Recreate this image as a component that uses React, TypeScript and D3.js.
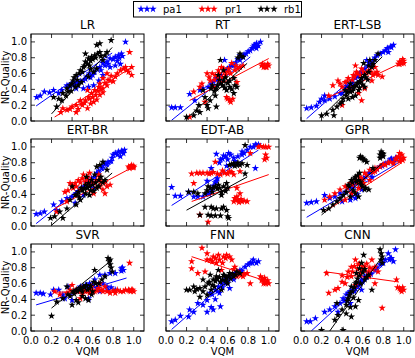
import React from 'react';
import * as d3 from 'd3';

const seriesNames = ['pa1', 'pr1', 'rb1'];
const seriesColors = ['#0000ff', '#ff0000', '#000000'];
const panelTitles = ['LR', 'RT', 'ERT-LSB', 'ERT-BR', 'EDT-AB', 'GPR', 'SVR', 'FNN', 'CNN'];
const tickValues = [0, 0.2, 0.4, 0.6, 0.8, 1.0];

// ---- LR ----
const LR_pa1 = [[0.055,0.30],[0.09,0.32],[0.13,0.37],[0.18,0.36],[0.22,0.39],[0.27,0.35],[0.30,0.39],[0.35,0.45],[0.36,0.43],[0.38,0.44],[0.40,0.47],[0.42,0.46],[0.44,0.49],[0.44,0.41],[0.46,0.48],[0.48,0.50],[0.51,0.51],[0.51,0.41],[0.53,0.53],[0.54,0.56],[0.56,0.43],[0.57,0.60],[0.58,0.55],[0.60,0.58],[0.61,0.45],[0.62,0.62],[0.64,0.66],[0.66,0.51],[0.67,0.68],[0.68,0.64],[0.70,0.73],[0.70,0.58],[0.72,0.70],[0.74,0.75],[0.75,0.72],[0.77,0.79],[0.77,0.68],[0.80,0.78],[0.82,0.81],[0.82,0.70],[0.84,0.76],[0.85,0.83],[0.86,0.80],[0.87,0.72],[0.88,0.85],[0.89,0.82],[0.92,1.0]];
const LR_pr1 = [[0.29,0.11],[0.31,0.16],[0.35,0.14],[0.38,0.15],[0.40,0.18],[0.44,0.20],[0.44,0.11],[0.46,0.15],[0.48,0.26],[0.49,0.22],[0.50,0.20],[0.52,0.23],[0.53,0.26],[0.55,0.16],[0.55,0.39],[0.56,0.30],[0.57,0.28],[0.58,0.22],[0.59,0.35],[0.60,0.30],[0.61,0.24],[0.62,0.39],[0.63,0.33],[0.64,0.27],[0.65,0.38],[0.66,0.43],[0.67,0.47],[0.67,0.33],[0.68,0.40],[0.70,0.54],[0.70,0.41],[0.70,0.36],[0.72,0.48],[0.74,0.60],[0.74,0.45],[0.75,0.52],[0.77,0.51],[0.78,0.57],[0.80,0.50],[0.82,0.56],[0.84,0.60],[0.87,0.64],[0.90,0.66],[0.92,0.68],[0.93,0.64],[0.95,0.62],[0.96,0.87],[0.98,0.68],[0.98,0.58]];
const LR_rb1 = [[0.22,0.30],[0.25,0.18],[0.27,0.28],[0.30,0.26],[0.31,0.35],[0.34,0.32],[0.35,0.41],[0.36,0.37],[0.38,0.45],[0.39,0.38],[0.40,0.47],[0.41,0.51],[0.42,0.55],[0.43,0.43],[0.44,0.58],[0.45,0.52],[0.46,0.45],[0.47,0.60],[0.48,0.64],[0.49,0.49],[0.50,0.62],[0.51,0.68],[0.52,0.70],[0.53,0.75],[0.53,0.85],[0.55,0.72],[0.56,0.79],[0.56,0.56],[0.57,0.70],[0.58,0.76],[0.58,0.66],[0.59,0.81],[0.60,0.78],[0.61,0.62],[0.62,0.83],[0.63,0.80],[0.64,0.96],[0.64,0.66],[0.65,0.85],[0.67,0.98],[0.67,0.87],[0.68,0.82],[0.70,0.77],[0.72,0.83],[0.74,0.87],[0.78,1.02]];
const LR_fit = [[0.05,0.19,0.79,0.86],[0.23,0.05,0.98,0.68],[0.20,0.09,0.79,0.93]];

// ---- RT ----
const RT_pa1 = [[0.055,0.17],[0.09,0.17],[0.14,0.17],[0.23,0.34],[0.28,0.26],[0.33,0.39],[0.36,0.41],[0.41,0.43],[0.44,0.47],[0.46,0.50],[0.49,0.54],[0.50,0.52],[0.53,0.49],[0.54,0.58],[0.57,0.77],[0.59,0.64],[0.60,0.66],[0.62,0.68],[0.64,0.70],[0.66,0.70],[0.68,0.74],[0.70,0.78],[0.72,0.77],[0.72,0.83],[0.75,0.81],[0.76,0.84],[0.78,0.85],[0.80,0.88],[0.82,0.89],[0.84,0.92],[0.85,0.94],[0.86,0.96],[0.88,0.98],[0.88,0.92],[0.90,0.95],[0.92,1.0]];
const RT_pr1 = [[0.23,0.05],[0.27,0.37],[0.33,0.43],[0.35,0.47],[0.38,0.24],[0.40,0.60],[0.42,0.55],[0.43,0.51],[0.45,0.60],[0.46,0.43],[0.47,0.52],[0.48,0.58],[0.50,0.56],[0.51,0.64],[0.52,0.60],[0.53,0.49],[0.54,0.68],[0.55,0.55],[0.56,0.66],[0.57,0.62],[0.58,0.58],[0.59,0.30],[0.60,0.62],[0.60,0.28],[0.61,0.66],[0.62,0.26],[0.63,0.60],[0.63,0.24],[0.64,0.73],[0.65,0.28],[0.67,0.64],[0.68,0.70],[0.69,0.49],[0.70,0.66],[0.72,0.68],[0.75,0.70],[0.93,0.70],[0.94,0.72],[0.95,0.68],[0.96,0.70],[0.97,0.68],[0.98,0.68],[0.99,0.72],[1.0,0.70]];
const RT_rb1 = [[0.20,0.05],[0.27,0.07],[0.30,0.13],[0.32,0.20],[0.33,0.11],[0.36,0.39],[0.38,0.30],[0.40,0.20],[0.41,0.16],[0.43,0.26],[0.44,0.41],[0.45,0.45],[0.47,0.38],[0.48,0.32],[0.49,0.41],[0.49,0.18],[0.50,0.45],[0.51,0.58],[0.52,0.52],[0.53,0.47],[0.53,0.77],[0.55,0.45],[0.56,0.51],[0.56,0.64],[0.57,0.42],[0.58,0.55],[0.59,0.39],[0.60,0.48],[0.62,0.43],[0.62,0.51],[0.64,0.40],[0.66,0.35],[0.66,0.54],[0.67,0.45],[0.69,0.43],[0.70,0.80],[0.72,0.85],[0.73,0.82],[0.75,0.81]];
const RT_fit = [[0.055,0.01,0.82,0.81],[0.23,0.26,1.0,0.79],[0.20,0.03,0.79,0.73]];

// ---- ERT-LSB ----
const ELSB_pa1 = [[0.055,0.16],[0.10,0.17],[0.15,0.19],[0.18,0.24],[0.20,0.28],[0.23,0.26],[0.23,0.32],[0.28,0.28],[0.33,0.31],[0.38,0.35],[0.40,0.35],[0.43,0.41],[0.45,0.44],[0.48,0.45],[0.49,0.43],[0.50,0.48],[0.53,0.54],[0.55,0.56],[0.57,0.60],[0.59,0.54],[0.60,0.62],[0.62,0.66],[0.64,0.77],[0.65,0.70],[0.67,0.73],[0.68,0.72],[0.70,0.77],[0.72,0.80],[0.74,0.83],[0.77,0.85],[0.80,0.87],[0.82,0.89],[0.84,0.92],[0.85,0.87],[0.87,0.94],[0.88,0.93],[0.90,0.96]];
const ELSB_pr1 = [[0.27,0.32],[0.31,0.45],[0.36,0.51],[0.38,0.47],[0.40,0.43],[0.40,0.20],[0.43,0.49],[0.45,0.50],[0.46,0.54],[0.48,0.39],[0.50,0.52],[0.51,0.58],[0.52,0.56],[0.53,0.70],[0.54,0.62],[0.55,0.60],[0.56,0.35],[0.58,0.58],[0.59,0.66],[0.59,0.26],[0.61,0.62],[0.62,0.41],[0.64,0.60],[0.66,0.64],[0.68,0.62],[0.69,0.51],[0.70,0.58],[0.72,0.60],[0.72,0.68],[0.74,0.62],[0.75,0.58],[0.79,0.56],[0.95,0.72],[0.96,0.75],[0.96,0.72],[0.97,0.74],[0.98,0.73],[0.99,0.78],[1.0,0.76],[1.0,0.73]];
const ELSB_rb1 = [[0.20,0.07],[0.25,0.09],[0.31,0.14],[0.32,0.07],[0.35,0.18],[0.38,0.22],[0.40,0.24],[0.41,0.28],[0.43,0.39],[0.44,0.32],[0.45,0.36],[0.46,0.28],[0.47,0.42],[0.48,0.37],[0.48,0.47],[0.50,0.38],[0.50,0.30],[0.51,0.41],[0.52,0.44],[0.53,0.32],[0.54,0.45],[0.55,0.48],[0.56,0.39],[0.57,0.49],[0.57,0.42],[0.58,0.50],[0.59,0.54],[0.60,0.46],[0.61,0.73],[0.62,0.58],[0.62,0.43],[0.63,0.55],[0.65,0.52],[0.66,0.62],[0.66,0.70],[0.67,0.77],[0.69,0.68],[0.70,0.72],[0.72,0.77],[0.75,0.85]];
const ELSB_fit = [[0.055,0.03,0.85,0.94],[0.27,0.30,1.0,0.75],[0.20,0.05,0.79,0.81]];

// ---- ERT-BR ----
const EBR_pa1 = [[0.05,0.15],[0.09,0.16],[0.13,0.18],[0.22,0.27],[0.25,0.20],[0.30,0.31],[0.35,0.35],[0.40,0.37],[0.43,0.29],[0.44,0.41],[0.46,0.44],[0.49,0.48],[0.51,0.39],[0.52,0.50],[0.54,0.54],[0.56,0.56],[0.58,0.52],[0.59,0.60],[0.61,0.48],[0.62,0.62],[0.64,0.67],[0.66,0.70],[0.69,0.73],[0.70,0.76],[0.72,0.79],[0.74,0.78],[0.75,0.81],[0.78,0.82],[0.79,0.86],[0.80,0.90],[0.82,0.92],[0.84,0.90],[0.85,0.94],[0.87,0.88],[0.88,0.95],[0.89,0.94],[0.90,0.92],[0.91,0.96]];
const EBR_pr1 = [[0.25,0.18],[0.33,0.43],[0.35,0.31],[0.36,0.45],[0.38,0.54],[0.40,0.52],[0.41,0.48],[0.43,0.54],[0.44,0.50],[0.46,0.58],[0.48,0.46],[0.48,0.55],[0.50,0.60],[0.51,0.65],[0.53,0.56],[0.54,0.60],[0.55,0.62],[0.56,0.52],[0.57,0.67],[0.58,0.58],[0.60,0.55],[0.61,0.41],[0.62,0.54],[0.64,0.58],[0.66,0.65],[0.67,0.50],[0.67,0.62],[0.68,0.56],[0.70,0.46],[0.72,0.41],[0.72,0.55],[0.74,0.50],[0.77,0.52],[0.95,0.75],[0.96,0.73],[0.97,0.75],[0.98,0.77],[0.98,0.75],[0.99,0.74],[1.0,0.76],[1.0,0.74]];
const EBR_rb1 = [[0.19,0.10],[0.23,0.12],[0.28,0.18],[0.31,0.10],[0.35,0.22],[0.38,0.33],[0.40,0.50],[0.43,0.39],[0.44,0.27],[0.45,0.40],[0.46,0.43],[0.47,0.36],[0.48,0.33],[0.49,0.48],[0.50,0.45],[0.52,0.47],[0.53,0.52],[0.53,0.41],[0.54,0.62],[0.55,0.48],[0.56,0.54],[0.57,0.39],[0.57,0.50],[0.58,0.45],[0.59,0.58],[0.60,0.52],[0.61,0.44],[0.62,0.65],[0.63,0.55],[0.64,0.75],[0.64,0.48],[0.66,0.50],[0.66,0.58],[0.67,0.77],[0.68,0.62],[0.70,0.81],[0.70,0.55],[0.72,0.58],[0.74,0.71]];
const EBR_fit = [[0.05,0.03,0.80,0.81],[0.23,0.22,1.0,0.75],[0.20,0.01,0.79,0.67]];

// ---- EDT-AB ----
const EDT_pa1 = [[0.055,0.49],[0.09,0.38],[0.14,0.38],[0.22,0.43],[0.27,0.37],[0.31,0.37],[0.36,0.37],[0.40,0.41],[0.40,0.57],[0.42,0.40],[0.43,0.43],[0.44,0.73],[0.45,0.45],[0.46,0.51],[0.48,0.55],[0.49,0.57],[0.49,0.91],[0.50,0.60],[0.52,0.80],[0.53,0.84],[0.55,0.85],[0.56,0.89],[0.58,0.88],[0.59,0.76],[0.60,0.84],[0.61,0.92],[0.63,0.90],[0.66,0.86],[0.67,0.82],[0.69,0.79],[0.70,0.88],[0.74,0.90],[0.74,0.94],[0.76,0.92],[0.79,0.96],[0.82,1.0],[0.85,1.0],[0.87,1.03],[0.87,0.73],[0.88,1.02],[0.90,1.03]];
const EDT_pr1 = [[0.25,0.66],[0.27,0.54],[0.30,0.67],[0.33,0.67],[0.33,0.14],[0.36,0.67],[0.40,0.67],[0.41,0.05],[0.42,0.66],[0.44,0.67],[0.46,0.68],[0.48,0.81],[0.50,0.66],[0.53,0.65],[0.55,0.70],[0.57,0.67],[0.60,0.66],[0.62,0.69],[0.64,0.68],[0.66,0.65],[0.66,0.31],[0.67,0.35],[0.68,0.33],[0.69,0.48],[0.69,0.37],[0.70,0.33],[0.71,0.30],[0.72,0.69],[0.72,0.41],[0.73,0.34],[0.74,0.31],[0.76,0.32],[0.79,0.31],[0.82,0.92],[0.90,1.0],[0.92,1.01],[0.95,1.0],[0.96,0.84],[0.97,1.0],[0.97,0.90],[0.98,0.86],[1.0,1.0]];
const EDT_rb1 = [[0.22,0.43],[0.27,0.43],[0.31,0.41],[0.33,0.14],[0.38,0.41],[0.38,0.24],[0.40,0.45],[0.41,0.50],[0.41,0.14],[0.43,0.48],[0.44,0.24],[0.44,0.13],[0.45,0.43],[0.46,0.48],[0.46,0.22],[0.48,0.13],[0.48,0.50],[0.49,0.22],[0.50,0.47],[0.51,0.52],[0.52,0.48],[0.53,0.13],[0.54,0.43],[0.54,0.22],[0.54,0.39],[0.56,0.50],[0.56,0.24],[0.58,0.44],[0.59,0.54],[0.59,0.20],[0.60,0.48],[0.60,0.12],[0.61,0.10],[0.62,0.77],[0.64,0.78],[0.66,0.79],[0.67,0.76],[0.69,0.77],[0.70,0.80],[0.72,0.77],[0.74,0.79],[0.77,0.66],[0.77,1.02],[0.79,0.77]];
const EDT_fit = [[0.055,0.26,0.90,0.96],[0.25,0.31,1.0,0.65],[0.20,0.20,0.79,0.62]];

// ---- GPR ----
const GPR_pa1 = [[0.055,0.29],[0.10,0.30],[0.15,0.31],[0.23,0.39],[0.28,0.35],[0.33,0.37],[0.38,0.41],[0.40,0.31],[0.43,0.43],[0.46,0.48],[0.48,0.33],[0.50,0.48],[0.50,0.38],[0.51,0.52],[0.53,0.35],[0.54,0.54],[0.55,0.40],[0.56,0.56],[0.58,0.58],[0.59,0.46],[0.61,0.60],[0.63,0.62],[0.66,0.67],[0.68,0.68],[0.69,0.62],[0.72,0.71],[0.74,0.72],[0.77,0.75],[0.79,0.76],[0.82,0.79],[0.84,0.80],[0.87,0.84],[0.88,0.85],[0.90,0.81],[0.92,0.86],[0.93,0.84],[0.95,0.87]];
const GPR_pr1 = [[0.23,0.33],[0.28,0.37],[0.33,0.41],[0.38,0.46],[0.43,0.50],[0.43,0.33],[0.45,0.48],[0.48,0.54],[0.49,0.41],[0.50,0.52],[0.53,0.58],[0.55,0.55],[0.56,0.48],[0.57,0.62],[0.58,0.60],[0.60,0.58],[0.61,0.54],[0.62,0.67],[0.64,0.64],[0.67,0.71],[0.67,0.58],[0.70,0.68],[0.72,0.73],[0.72,0.69],[0.74,0.72],[0.77,0.75],[0.80,0.78],[0.82,0.77],[0.85,0.80],[0.87,0.81],[0.90,0.79],[0.92,0.84],[0.93,0.86],[0.95,0.88],[0.96,0.92],[0.96,0.82],[0.97,0.85],[0.98,0.90],[0.99,0.83],[1.0,0.86]];
const GPR_rb1 = [[0.22,0.20],[0.27,0.22],[0.31,0.27],[0.35,0.31],[0.38,0.35],[0.41,0.39],[0.44,0.43],[0.46,0.52],[0.47,0.50],[0.48,0.37],[0.49,0.58],[0.50,0.55],[0.51,0.45],[0.52,0.60],[0.53,0.62],[0.53,0.41],[0.54,0.56],[0.55,0.64],[0.56,0.58],[0.56,0.37],[0.57,0.86],[0.57,0.67],[0.58,0.55],[0.58,0.88],[0.59,0.52],[0.60,0.50],[0.60,0.86],[0.61,0.84],[0.62,0.46],[0.62,0.83],[0.63,0.48],[0.64,0.81],[0.66,0.46],[0.70,0.73],[0.77,0.90],[0.77,0.86],[0.78,0.94],[0.79,0.92],[0.79,0.89],[0.80,0.88],[0.80,0.91]];
const GPR_fit = [[0.055,0.11,1.0,0.84],[0.23,0.18,0.98,0.80],[0.20,0.14,0.79,0.79]];

// ---- SVR ----
const SVR_pa1 = [[0.05,0.48],[0.09,0.48],[0.12,0.47],[0.19,0.46],[0.22,0.52],[0.27,0.52],[0.31,0.46],[0.33,0.41],[0.36,0.56],[0.40,0.39],[0.43,0.50],[0.45,0.52],[0.48,0.56],[0.50,0.55],[0.53,0.58],[0.55,0.56],[0.56,0.41],[0.57,0.60],[0.60,0.58],[0.62,0.65],[0.64,0.55],[0.67,0.71],[0.67,0.50],[0.70,0.60],[0.72,0.71],[0.74,0.56],[0.75,0.52],[0.77,0.73],[0.78,0.55],[0.82,0.73],[0.82,0.52],[0.88,0.79],[0.88,0.76],[0.89,0.80],[0.90,0.77]];
const SVR_pr1 = [[0.23,0.50],[0.28,0.46],[0.35,0.48],[0.38,0.52],[0.40,0.58],[0.42,0.50],[0.44,0.52],[0.46,0.50],[0.48,0.41],[0.49,0.54],[0.50,0.48],[0.52,0.52],[0.53,0.50],[0.55,0.50],[0.57,0.48],[0.58,0.52],[0.59,0.56],[0.60,0.49],[0.62,0.50],[0.64,0.51],[0.66,0.54],[0.67,0.60],[0.69,0.52],[0.70,0.50],[0.72,0.56],[0.74,0.50],[0.77,0.48],[0.80,0.51],[0.82,0.48],[0.84,0.52],[0.87,0.50],[0.90,0.50],[0.92,0.52],[0.95,0.52],[0.96,0.86],[0.96,0.51],[0.97,0.50],[0.98,0.52],[0.99,0.52],[1.0,0.50]];
const SVR_rb1 = [[0.20,0.19],[0.25,0.37],[0.31,0.41],[0.35,0.56],[0.36,0.46],[0.38,0.44],[0.40,0.33],[0.41,0.50],[0.42,0.47],[0.44,0.52],[0.44,0.39],[0.45,0.50],[0.46,0.36],[0.47,0.52],[0.48,0.54],[0.50,0.50],[0.50,0.44],[0.51,0.56],[0.52,0.55],[0.53,0.41],[0.54,0.58],[0.55,0.52],[0.56,0.39],[0.57,0.54],[0.58,0.57],[0.59,0.46],[0.60,0.50],[0.61,0.62],[0.62,0.77],[0.63,0.60],[0.66,0.60],[0.69,0.65],[0.72,0.69],[0.75,0.92],[0.76,0.88],[0.77,0.90],[0.77,0.84],[0.78,0.80],[0.79,0.75]];
const SVR_fit = [[0.05,0.33,0.93,0.67],[0.23,0.49,1.0,0.51],[0.20,0.29,0.79,0.90]];

// ---- FNN ----
const FNN_pa1 = [[0.055,0.12],[0.09,0.14],[0.14,0.19],[0.22,0.18],[0.23,0.27],[0.27,0.24],[0.31,0.35],[0.36,0.33],[0.40,0.39],[0.40,0.24],[0.43,0.48],[0.44,0.30],[0.45,0.46],[0.46,0.27],[0.48,0.52],[0.48,0.40],[0.50,0.50],[0.51,0.56],[0.52,0.48],[0.53,0.31],[0.54,0.60],[0.55,0.55],[0.57,0.65],[0.58,0.60],[0.60,0.62],[0.62,0.69],[0.62,0.54],[0.64,0.68],[0.66,0.65],[0.67,0.73],[0.70,0.74],[0.72,0.77],[0.74,0.76],[0.77,0.81],[0.80,0.84],[0.82,0.86],[0.84,0.86],[0.85,0.90],[0.88,0.86],[0.90,0.88]];
const FNN_pr1 = [[0.25,0.88],[0.25,0.79],[0.31,0.73],[0.35,1.05],[0.38,0.75],[0.40,0.98],[0.40,0.90],[0.43,0.90],[0.45,0.88],[0.46,0.94],[0.48,0.92],[0.49,0.86],[0.51,0.96],[0.52,0.90],[0.54,0.77],[0.55,0.86],[0.56,0.94],[0.58,0.92],[0.59,0.96],[0.62,0.94],[0.64,0.90],[0.66,0.78],[0.67,0.81],[0.69,0.69],[0.70,0.75],[0.72,0.73],[0.73,0.70],[0.75,0.69],[0.76,0.72],[0.79,0.73],[0.82,0.60],[0.92,0.69],[0.93,0.64],[0.94,0.66],[0.95,0.60],[0.96,0.67],[0.96,0.62],[0.97,0.60],[0.98,0.62],[0.99,0.64],[1.0,0.60]];
const FNN_rb1 = [[0.20,0.52],[0.23,0.52],[0.27,0.56],[0.28,0.50],[0.30,0.53],[0.33,0.54],[0.33,0.43],[0.36,0.65],[0.36,0.50],[0.38,0.56],[0.40,0.46],[0.41,0.60],[0.42,0.62],[0.43,0.71],[0.44,0.52],[0.45,0.58],[0.46,0.65],[0.47,0.56],[0.48,0.63],[0.49,0.69],[0.50,0.66],[0.51,0.77],[0.52,0.68],[0.53,0.62],[0.54,0.52],[0.55,0.65],[0.56,0.71],[0.57,0.70],[0.58,0.64],[0.59,0.67],[0.60,0.60],[0.61,0.70],[0.62,0.73],[0.63,0.66],[0.65,0.72],[0.66,0.69],[0.68,0.71],[0.69,0.75],[0.72,0.73]];
const FNN_fit = [[0.055,0.02,0.85,0.92],[0.25,0.94,1.0,0.62],[0.38,0.41,0.67,0.69]];

// ---- CNN ----
const CNN_pa1 = [[0.055,0.12],[0.09,0.12],[0.14,0.16],[0.23,0.24],[0.28,0.27],[0.33,0.31],[0.36,0.24],[0.38,0.35],[0.41,0.41],[0.42,0.38],[0.44,0.46],[0.45,0.40],[0.46,0.48],[0.48,0.50],[0.48,0.35],[0.50,0.52],[0.52,0.50],[0.53,0.54],[0.55,0.56],[0.56,0.58],[0.57,0.60],[0.59,0.65],[0.59,0.52],[0.60,0.62],[0.62,0.69],[0.64,0.70],[0.67,0.73],[0.68,0.72],[0.72,0.77],[0.74,0.80],[0.77,0.84],[0.80,0.86],[0.82,0.90],[0.85,0.98],[0.86,0.90],[0.87,0.92],[0.88,0.92],[0.90,0.88],[0.92,1.03]];
const CNN_pr1 = [[0.25,0.73],[0.27,0.48],[0.33,0.52],[0.36,0.54],[0.40,0.62],[0.40,0.70],[0.43,0.60],[0.45,0.68],[0.46,0.75],[0.49,0.81],[0.49,0.69],[0.50,0.75],[0.52,0.82],[0.53,0.90],[0.53,0.58],[0.55,0.78],[0.56,0.84],[0.57,0.85],[0.58,0.72],[0.59,0.77],[0.60,0.82],[0.62,0.81],[0.62,0.76],[0.64,0.85],[0.66,0.75],[0.66,0.69],[0.67,0.80],[0.69,0.90],[0.70,0.78],[0.72,0.81],[0.72,0.60],[0.75,0.75],[0.79,0.29],[0.93,0.65],[0.94,0.55],[0.96,0.54],[0.97,0.52],[0.98,0.50],[0.99,0.55],[1.0,0.52]];
const CNN_rb1 = [[0.20,0.01],[0.33,0.14],[0.35,0.35],[0.36,0.20],[0.40,0.27],[0.41,0.01],[0.44,0.33],[0.44,0.22],[0.45,0.38],[0.46,0.41],[0.47,0.45],[0.48,0.48],[0.48,0.30],[0.49,0.56],[0.49,0.18],[0.50,0.50],[0.51,0.42],[0.52,0.55],[0.53,0.60],[0.53,0.31],[0.54,0.73],[0.54,0.62],[0.55,0.66],[0.56,0.39],[0.57,0.79],[0.57,0.70],[0.58,0.60],[0.59,0.86],[0.60,0.74],[0.61,0.96],[0.62,0.65],[0.62,0.78],[0.64,0.68],[0.66,0.71],[0.69,0.52],[0.77,1.03],[0.78,0.98],[0.78,0.90],[0.79,0.94],[0.79,0.86]];
const CNN_fit = [[0.10,0.0,0.82,0.86],[0.23,0.75,0.95,0.62],[0.28,0.0,0.79,0.94]];

const panelSeries = [
  [LR_pa1, LR_pr1, LR_rb1],
  [RT_pa1, RT_pr1, RT_rb1],
  [ELSB_pa1, ELSB_pr1, ELSB_rb1],
  [EBR_pa1, EBR_pr1, EBR_rb1],
  [EDT_pa1, EDT_pr1, EDT_rb1],
  [GPR_pa1, GPR_pr1, GPR_rb1],
  [SVR_pa1, SVR_pr1, SVR_rb1],
  [FNN_pa1, FNN_pr1, FNN_rb1],
  [CNN_pa1, CNN_pr1, CNN_rb1],
];
const panelFits = [LR_fit, RT_fit, ELSB_fit, EBR_fit, EDT_fit, GPR_fit, SVR_fit, FNN_fit, CNN_fit];

const FONT = 'DejaVu Sans, sans-serif';
const colLeft = [31, 166, 301];
const rowTop = [34, 139, 244];
const PW = 113;
const PH = 87;
const starPath = d3.symbol(d3.symbolStar, 17)() as string;

function Panel({ idx }: { idx: number }) {
  const c = idx % 3;
  const r = Math.floor(idx / 3);
  const left = colLeft[c];
  const top = rowTop[r];
  const x = d3.scaleLinear().domain([0, 1.1]).range([left, left + PW]);
  const y = d3.scaleLinear().domain([0, 1.1]).range([top + PH, top]);
  const tl = 4;
  return (
    <g>
      <text x={left + PW / 2} y={top - 5} textAnchor="middle" fontSize={12} fontFamily={FONT}>{panelTitles[idx]}</text>
      <defs>
        <clipPath id={`clip${idx}`}><rect x={left} y={top} width={PW} height={PH} /></clipPath>
      </defs>
      <g clipPath={`url(#clip${idx})`}>
        {panelSeries[idx].map((pts, si) => (
          <g key={si}>
            {pts.map((p, pi) => (
              <path key={pi} d={starPath} transform={`translate(${x(p[0])},${y(p[1])})`} fill={seriesColors[si]} />
            ))}
            <line x1={x(panelFits[idx][si][0])} y1={y(panelFits[idx][si][1])} x2={x(panelFits[idx][si][2])} y2={y(panelFits[idx][si][3])} stroke={seriesColors[si]} strokeWidth={1} />
          </g>
        ))}
      </g>
      {tickValues.map((t) => (
        <g key={'t' + t} stroke="#000" strokeWidth={0.8}>
          <line x1={x(t)} x2={x(t)} y1={top + PH} y2={top + PH - tl} />
          <line x1={x(t)} x2={x(t)} y1={top} y2={top + tl} />
          <line x1={left} x2={left + tl} y1={y(t)} y2={y(t)} />
          <line x1={left + PW} x2={left + PW - tl} y1={y(t)} y2={y(t)} />
        </g>
      ))}
      <rect x={left} y={top} width={PW} height={PH} fill="none" stroke="#000" strokeWidth={1} />
      {c === 0 && tickValues.map((t) => (
        <text key={'yl' + t} x={left - 4} y={y(t) + 3.5} textAnchor="end" fontSize={10} fontFamily={FONT}>{t.toFixed(1)}</text>
      ))}
      {r === 2 && tickValues.map((t) => (
        <text key={'xl' + t} x={x(t)} y={top + PH + 13} textAnchor="middle" fontSize={10} fontFamily={FONT}>{t.toFixed(1)}</text>
      ))}
      {c === 0 && (
        <text transform={`translate(9,${top + PH / 2}) rotate(-90)`} textAnchor="middle" fontSize={10} fontFamily={FONT}>NR-Quality</text>
      )}
      {r === 2 && (
        <text x={left + PW / 2} y={top + PH + 24} textAnchor="middle" fontSize={10} fontFamily={FONT}>VQM</text>
      )}
    </g>
  );
}

export default function App() {
  const legendStarX = [[141, 147, 153], [202, 208, 214], [261, 267, 274]];
  const legendTextX = [163, 225, 284];
  return (
    <svg width={415} height={358} style={{ position: 'absolute', left: 0, top: 0, background: '#fff' }}>
      <rect x={0} y={0} width={415} height={358} fill="#fff" />
      {panelTitles.map((_, i) => <Panel key={i} idx={i} />)}
      <rect x={133.5} y={1.5} width={168} height={15.5} fill="#fff" stroke="#000" strokeWidth={1} />
      {seriesNames.map((n, si) => (
        <g key={n}>
          {legendStarX[si].map((sx, k) => (
            <path key={k} d={starPath} transform={`translate(${sx},9)`} fill={seriesColors[si]} />
          ))}
          <text x={legendTextX[si]} y={13} fontSize={10} fontFamily={FONT}>{n}</text>
        </g>
      ))}
    </svg>
  );
}
